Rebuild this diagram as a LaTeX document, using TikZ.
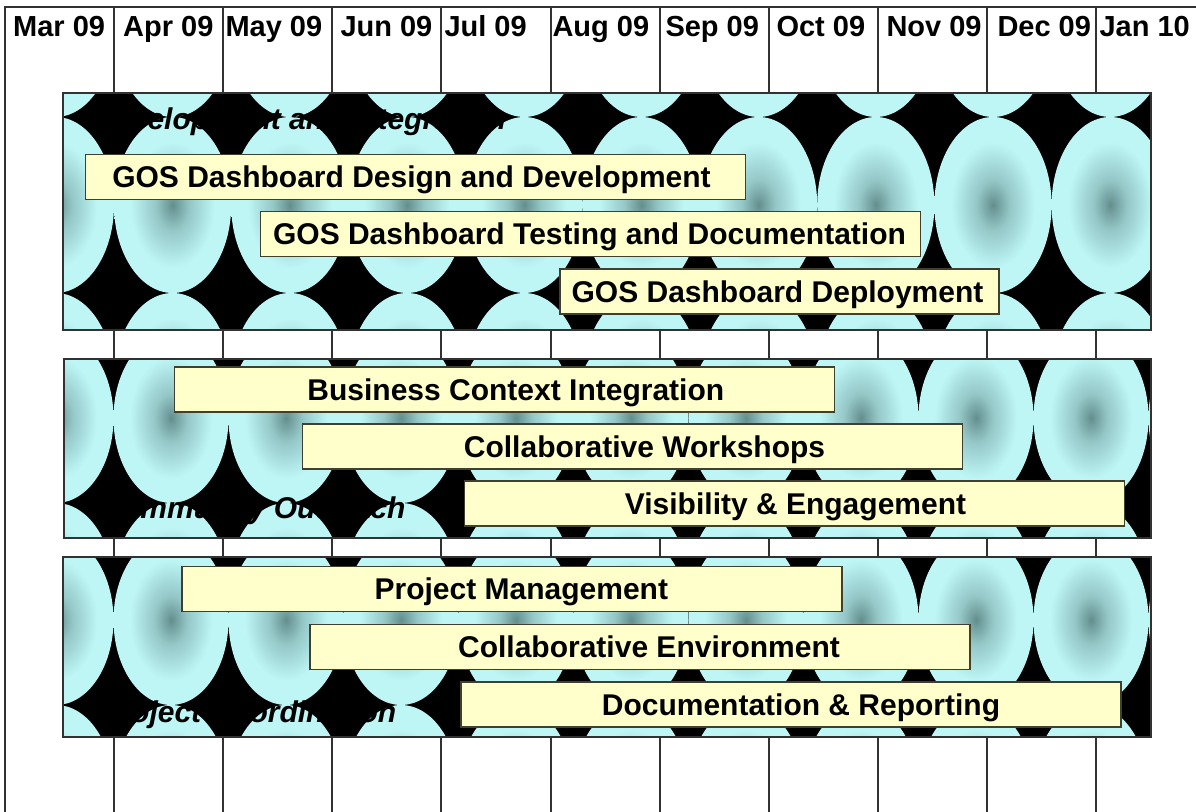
\documentclass[tikz,border=0pt]{standalone}
\usepackage{fontspec}
\setmainfont{Liberation Sans}

\definecolor{tiledark}{RGB}{100,142,142}
\definecolor{tilemid}{RGB}{148,198,198}
\definecolor{tilelight}{RGB}{190,246,246}
\definecolor{barfill}{RGB}{255,255,204}
\definecolor{barline}{RGB}{64,64,48}
\definecolor{gridline}{RGB}{50,50,50}

\pgfdeclareradialshading{tileglow}{\pgfpoint{0bp}{0bp}}{color(0bp)=(tiledark);color(7bp)=(tilemid);color(18bp)=(tilelight);color(50bp)=(tilelight)}

\tikzset{every picture/.style={line width=0.75pt}}
\tikzset{
  month/.style={anchor=base west, inner sep=0pt, font=\fontsize{21.75}{24}\selectfont\bfseries},
  phase/.style={anchor=base west, inner sep=0pt, font=\fontsize{22.5}{24}\selectfont\bfseries\itshape},
  task/.style={draw=barline, fill=barfill, line width=1.1pt, inner sep=0pt,
    minimum width=495pt, minimum height=33.75pt},
  tasktext/.style={inner sep=0pt, text height=16.1pt, text depth=0pt,
    font=\fontsize{22.5}{24}\selectfont\bfseries},
  gridrule/.style={draw=gridline, line width=1.1pt},
  panelline/.style={draw=gridline, line width=0.9pt}
}

\begin{document}
\begin{tikzpicture}[x=0.75pt,y=0.75pt,yscale=-1,xscale=1]
\useasboundingbox (0,0) rectangle (1196,812);

%Table: month columns
\draw [gridrule] (5,812) -- (5,7) -- (1200,7) ;
\foreach \x in {114,223,332,441,551,660,769,878,987,1096}
  \draw [gridrule] (\x,7) -- (\x,812) ;

% Month headings
\node [month] (mar) at (12.7,37) {Mar 09};
\node [month] (apr) at (122.7,37) {Apr 09};
\node [month] (may) at (225,37) {May 09};
\node [month] (jun) at (340,37) {Jun 09};
\node [month] (jul) at (444,37) {Jul 09};
\node [month] (aug) at (552,37) {Aug 09};
\node [month] (sep) at (665,37) {Sep 09};
\node [month] (oct) at (776,37) {Oct 09};
\node [month] (nov) at (886,37) {Nov 09};
\node [month] (dec) at (997,37) {Dec 09};
\node [month] (jan) at (1099,37) {Jan 10};

%Shape: Rectangle -- development panel
\begin{scope}
\clip (63,93) rectangle (1151,330);
\fill [black] (63,93) rectangle (1151,330);
\foreach \i in {0,...,9}
  \foreach \cy in {29,205,381}
    \shade [shading=tileglow] ({55.4+117.2*\i},\cy) ellipse [x radius=58.6, y radius=88];
\end{scope}
\draw [panelline] (63,93) rectangle (1151,330);

%Shape: Rectangle -- outreach panel
\begin{scope}
\clip (64,359) rectangle (1151,538);
\fill [black] (64,359) rectangle (1151,538);
\foreach \i in {0,...,10}
  \foreach \cy in {248,418,588}
    \shade [shading=tileglow] ({56+115*\i},\cy) ellipse [x radius=57.5, y radius=85];
\end{scope}
\draw [panelline] (64,359) rectangle (1151,538);

%Shape: Rectangle -- coordination panel
\begin{scope}
\clip (63,557) rectangle (1151,737);
\fill [black] (63,557) rectangle (1151,737);
\foreach \i in {0,...,10}
  \foreach \cy in {450,620,790}
    \shade [shading=tileglow] ({56+115*\i},\cy) ellipse [x radius=57.5, y radius=85];
\end{scope}
\draw [panelline] (63,557) rectangle (1151,737);

% Panel titles
\node [phase] (devtitle) at (92,130) {Development and Integration};
\node [phase] (comtitle) at (100,519) {Community Outreach};
\node [phase] (coordtitle) at (99,722) {Project Coordination};

% Task bars (label shifted where the text sits off centre)
\node [task, label={[tasktext, xshift=-3pt]center:GOS Dashboard Design and Development}] (design) at (415.5,177) {};
\node [task, label={[tasktext, xshift=-0.75pt]center:GOS Dashboard Testing and Documentation}] (testing) at (590.5,234) {};
\node [task, minimum width=329.25pt, label={[tasktext, xshift=-1.5pt]center:GOS Dashboard Deployment}] (deploy) at (779.5,291.5) {};
\node [task, label={[tasktext, xshift=8.5pt]center:Business Context Integration}] (context) at (504.5,389.5) {};
\node [task, label={[tasktext, xshift=9pt]center:Collaborative Workshops}] (workshops) at (632.5,446.5) {};
\node [task, label={[tasktext, xshift=0.75pt]center:Visibility \& Engagement}] (visibility) at (794.5,503.5) {};
\node [task, label={[tasktext, xshift=7pt]center:Project Management}] (management) at (512,589) {};
\node [task, label={[tasktext, xshift=6.75pt]center:Collaborative Environment}] (environment) at (640,647) {};
\node [task, label={[tasktext, xshift=7.5pt]center:Documentation \& Reporting}] (reporting) at (791,704.5) {};

\end{tikzpicture}
\end{document}
